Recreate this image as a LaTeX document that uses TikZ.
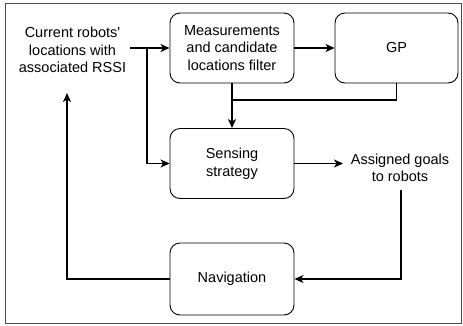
\documentclass[tikz,border=0pt]{standalone}
\usepackage{fontspec}
\newfontfamily\lsans{Liberation Sans}
\usetikzlibrary{arrows.meta}
\begin{document}
\begin{tikzpicture}[x=1pt,y=-1pt,
  blk/.style={draw, rounded corners=10pt, line width=0.9pt, minimum width=124pt, minimum height=70pt, align=center, font=\lsans\fontsize{14.5}{17.5}\selectfont, inner sep=0pt},
  txt/.style={align=center, font=\lsans\fontsize{14.5}{17.5}\selectfont, inner sep=1pt},
  conn/.style={line width=1.6pt, -{Stealth[length=9pt,width=8pt,inset=2.5pt]}},
  wire/.style={line width=1.6pt}]
\useasboundingbox (0,0) rectangle (463,325);
\draw[line width=1pt, black!70] (5,3.5) rectangle (461.5,323);
\node[blk] (meas) at (232,48) {Measurements\\and candidate\\locations filter};
\node[blk, minimum width=123pt] (gp) at (396.5,48) {GP};
\node[blk] (sens) at (232,163.5) {Sensing\\strategy};
\node[blk, minimum height=72pt] (nav) at (232,279) {Navigation};
\node[txt] (cur) at (72.5,50) {Current robots'\\locations with\\associated RSSI};
\node[txt] (goal) at (400,168) {Assigned goals\\to robots};
\coordinate (curout) at (130,48);
\coordinate (br) at (147,48);
\coordinate (merge) at (232,100);
\coordinate (goalin) at (343,163.5);
\coordinate (goalout) at (401,190);
\coordinate (curin) at (67,93);
\draw[conn] (curout) -- (meas.west);
\draw[conn] (br) |- (sens.west);
\draw[conn] (meas.east) -- (gp.west);
\draw[conn] (meas.south) -- (sens.north);
\draw[wire] (gp.south) |- (merge);
\draw[conn] (sens.east) -- (goalin);
\draw[conn] (goalout) |- (nav.east);
\draw[conn] (nav.west) -| (curin);
\end{tikzpicture}
\end{document}
